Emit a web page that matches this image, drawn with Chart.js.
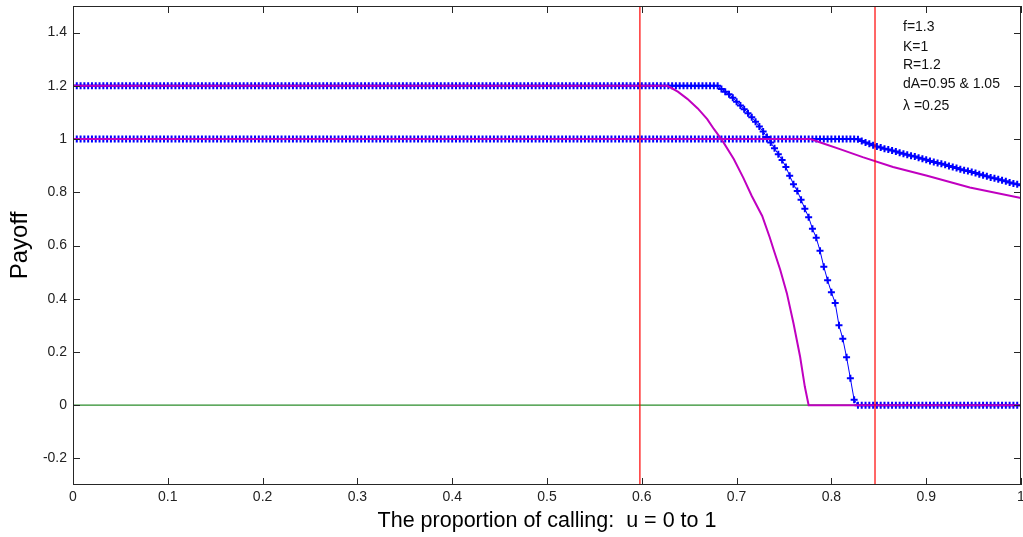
<!DOCTYPE html>
<html>
<head>
<meta charset="utf-8">
<script src="https://cdn.jsdelivr.net/npm/chart.js@4.4.1/dist/chart.umd.min.js"></script>
<style>
html, body { margin: 0; padding: 0; background: #fff; }
#wrap { width: 1023px; height: 537px; }
</style>
</head>
<body>
<div id="wrap"><canvas id="myChart" width="1023" height="537"></canvas></div>
<script>
// tick labels
const xTicks = [0, 0.1, 0.2, 0.3, 0.4, 0.5, 0.6, 0.7, 0.8, 0.9, 1]
const yTicks = [-0.2, 0, 0.2, 0.4, 0.6, 0.8, 1, 1.2, 1.4]

// sample grid of the two marked (blue) curves, u = 0 .. 1 in steps of 0.004
var u = []
for (var i = 0; i <= 250; i++) u.push(+(i * 0.004).toFixed(3))

// blue curve starting at 1.2 (one value per grid point)
const blueHigh = [
  1.2, 1.2, 1.2, 1.2, 1.2, 1.2, 1.2, 1.2, 1.2, 1.2, 1.2, 1.2, 1.2, 1.2, 1.2, 1.2, 1.2, 1.2, 1.2,
  1.2, 1.2, 1.2, 1.2, 1.2, 1.2, 1.2, 1.2, 1.2, 1.2, 1.2, 1.2, 1.2, 1.2, 1.2, 1.2, 1.2, 1.2, 1.2,
  1.2, 1.2, 1.2, 1.2, 1.2, 1.2, 1.2, 1.2, 1.2, 1.2, 1.2, 1.2, 1.2, 1.2, 1.2, 1.2, 1.2, 1.2, 1.2,
  1.2, 1.2, 1.2, 1.2, 1.2, 1.2, 1.2, 1.2, 1.2, 1.2, 1.2, 1.2, 1.2, 1.2, 1.2, 1.2, 1.2, 1.2, 1.2,
  1.2, 1.2, 1.2, 1.2, 1.2, 1.2, 1.2, 1.2, 1.2, 1.2, 1.2, 1.2, 1.2, 1.2, 1.2, 1.2, 1.2, 1.2, 1.2,
  1.2, 1.2, 1.2, 1.2, 1.2, 1.2, 1.2, 1.2, 1.2, 1.2, 1.2, 1.2, 1.2, 1.2, 1.2, 1.2, 1.2, 1.2, 1.2,
  1.2, 1.2, 1.2, 1.2, 1.2, 1.2, 1.2, 1.2, 1.2, 1.2, 1.2, 1.2, 1.2, 1.2, 1.2, 1.2, 1.2, 1.2, 1.2,
  1.2, 1.2, 1.2, 1.2, 1.2, 1.2, 1.2, 1.2, 1.2, 1.2, 1.2, 1.2, 1.2, 1.2, 1.2, 1.2, 1.2, 1.2, 1.2,
  1.2, 1.2, 1.2, 1.2, 1.2, 1.2, 1.2, 1.2, 1.2, 1.2, 1.2, 1.2, 1.2, 1.2, 1.2, 1.2, 1.2, 1.2, 1.2,
  1.188, 1.178, 1.168, 1.155, 1.140, 1.126, 1.112, 1.097, 1.082, 1.065, 1.047, 1.028,
  1.008, 0.987, 0.965, 0.943, 0.921, 0.895, 0.862, 0.830, 0.805, 0.772, 0.738, 0.706,
  0.663, 0.629, 0.580, 0.520, 0.469, 0.424, 0.384, 0.300, 0.250, 0.180, 0.101, 0.020,
  0, 0, 0, 0, 0, 0, 0, 0, 0, 0, 0, 0, 0, 0, 0, 0, 0, 0, 0, 0, 0, 0,
  0, 0, 0, 0, 0, 0, 0, 0, 0, 0, 0, 0, 0, 0, 0, 0, 0, 0, 0, 0, 0, 0
]

// blue curve starting at 1
const blueLow = [
  1, 1, 1, 1, 1, 1, 1, 1, 1, 1, 1, 1, 1, 1, 1, 1, 1, 1, 1, 1, 1, 1, 1,
  1, 1, 1, 1, 1, 1, 1, 1, 1, 1, 1, 1, 1, 1, 1, 1, 1, 1, 1, 1, 1, 1, 1,
  1, 1, 1, 1, 1, 1, 1, 1, 1, 1, 1, 1, 1, 1, 1, 1, 1, 1, 1, 1, 1, 1, 1,
  1, 1, 1, 1, 1, 1, 1, 1, 1, 1, 1, 1, 1, 1, 1, 1, 1, 1, 1, 1, 1, 1, 1,
  1, 1, 1, 1, 1, 1, 1, 1, 1, 1, 1, 1, 1, 1, 1, 1, 1, 1, 1, 1, 1, 1, 1,
  1, 1, 1, 1, 1, 1, 1, 1, 1, 1, 1, 1, 1, 1, 1, 1, 1, 1, 1, 1, 1, 1, 1,
  1, 1, 1, 1, 1, 1, 1, 1, 1, 1, 1, 1, 1, 1, 1, 1, 1, 1, 1, 1, 1, 1, 1,
  1, 1, 1, 1, 1, 1, 1, 1, 1, 1, 1, 1, 1, 1, 1, 1, 1, 1, 1, 1, 1, 1, 1,
  1, 1, 1, 1, 1, 1, 1, 1, 1, 1, 1, 1, 1, 1, 1, 1, 1, 1, 1, 1, 1, 1, 1,
  0.999, 0.993, 0.987, 0.982, 0.977, 0.972, 0.968, 0.964, 0.961, 0.957, 0.953,
  0.949, 0.945, 0.941, 0.937, 0.934, 0.930, 0.926, 0.922, 0.918, 0.914, 0.910,
  0.907, 0.903, 0.899, 0.895, 0.891, 0.887, 0.883, 0.880, 0.876, 0.872, 0.868,
  0.864, 0.860, 0.856, 0.853, 0.849, 0.845, 0.841, 0.837, 0.833, 0.830, 0.826
]

// magenta curves (plain lines), read as [u, payoff] pairs
const magHigh = [
  [0, 1.2], [0.627, 1.2], [0.638, 1.178], [0.648, 1.151], [0.659, 1.115], [0.669, 1.075],
  [0.676, 1.038], [0.685, 0.994], [0.697, 0.925], [0.707, 0.855], [0.716, 0.786],
  [0.727, 0.711], [0.735, 0.630], [0.739, 0.585], [0.746, 0.509], [0.753, 0.421],
  [0.760, 0.308], [0.767, 0.182], [0.772, 0.069], [0.776, 0], [1, 0]
]
const magLow = [
  [0, 1], [0.778, 1], [0.790, 0.985], [0.809, 0.962], [0.833, 0.932], [0.865, 0.895],
  [0.901, 0.862], [0.946, 0.818], [1, 0.778]
]

// zero line and the two red markers on u
const zeroLine = [[0, 0], [1, 0]]
const redU = [0.598, 0.846]

const notes = ['f=1.3', 'K=1', 'R=1.2', 'dA=0.95 & 1.05', '\u03bb =0.25']

const FONT = '"Liberation Sans", Arial, Helvetica, sans-serif'

function pairs(list) {
  return list.map(function (p) { return { x: p[0], y: p[1] } })
}
function onGrid(vals) {
  return vals.map(function (v, k) { return { x: u[k], y: v } })
}

// scales should not push the plot box in for overhanging tick labels
function noOverhang(s) {
  s.paddingTop = 0; s.paddingBottom = 0; s.paddingLeft = 0; s.paddingRight = 0
}

// frame with inward ticks on all four sides, plus the parameter text
const frameTicks = {
  id: 'frameTicks',
  afterDraw: function (chart) {
    var ctx = chart.ctx, a = chart.chartArea
    var xs = chart.scales.x, ys = chart.scales.y
    ctx.save()
    ctx.strokeStyle = '#262626'
    ctx.lineWidth = 1
    ctx.strokeRect(a.left + 0.5, a.top + 0.5, a.right - a.left - 1, a.bottom - a.top - 1)
    ctx.beginPath()
    xTicks.forEach(function (v) {
      var p = Math.round(xs.getPixelForValue(v)) + 0.5
      ctx.moveTo(p, a.bottom); ctx.lineTo(p, a.bottom - 7)
      ctx.moveTo(p, a.top); ctx.lineTo(p, a.top + 7)
    })
    yTicks.forEach(function (v) {
      var p = Math.round(ys.getPixelForValue(v)) + 0.5
      ctx.moveTo(a.left, p); ctx.lineTo(a.left + 7, p)
      ctx.moveTo(a.right, p); ctx.lineTo(a.right - 7, p)
    })
    ctx.stroke()

    ctx.fillStyle = '#111'
    ctx.font = '14px ' + FONT
    ctx.textBaseline = 'middle'
    var ny = [27, 47, 65, 84, 106]
    notes.forEach(function (t, k) { ctx.fillText(t, 903, ny[k]) })
    ctx.restore()
  }
}

var datasets = [
  { data: pairs(magHigh), borderColor: '#c000c0', borderWidth: 2, pointRadius: 0, order: 1 },
  { data: pairs(magLow), borderColor: '#c000c0', borderWidth: 2, pointRadius: 0, order: 1 },
  { data: onGrid(blueHigh), borderColor: '#0000ff', borderWidth: 1, pointStyle: 'cross',
    pointRadius: 3.5, pointBorderWidth: 2, pointBorderColor: '#0000ff', order: 2 },
  { data: onGrid(blueLow), borderColor: '#0000ff', borderWidth: 1, pointStyle: 'cross',
    pointRadius: 3.5, pointBorderWidth: 2, pointBorderColor: '#0000ff', order: 2 },
  { data: pairs(zeroLine), borderColor: '#2a8c2a', borderWidth: 1.2, pointRadius: 0, order: 3 }
]
redU.forEach(function (x) {
  datasets.push({ data: [{ x: x, y: -0.3 }, { x: x, y: 1.5 }], borderColor: '#ff0000',
    backgroundColor: '#ff0000', borderWidth: 1.2, pointRadius: 0, order: 0 })
})

var ctx = document.getElementById('myChart').getContext('2d')
var chart = new Chart(ctx, {
  type: 'scatter',
  data: { datasets: datasets },
  plugins: [frameTicks],
  options: {
    responsive: false,
    animation: false,
    devicePixelRatio: 1,
    datasets: { scatter: { showLine: true, tension: 0, fill: false } },
    layout: { autoPadding: false, padding: { left: 0, right: 2, top: 6, bottom: 0 } },
    plugins: { legend: { display: false }, tooltip: { enabled: false } },
    scales: {
      x: {
        type: 'linear', min: 0, max: 1,
        grid: { display: false, drawTicks: false },
        border: { display: false },
        afterBuildTicks: function (s) { s.ticks = xTicks.map(function (v) { return { value: v } }) },
        afterFit: function (s) { s.height = 52; noOverhang(s) },
        ticks: { padding: 4, color: '#222', font: { family: FONT, size: 14 },
          maxRotation: 0, autoSkip: false, callback: function (v) { return String(v) } },
        title: { display: true, text: 'The proportion of calling:  u = 0 to 1', color: '#000',
          font: { family: FONT, size: 21.5 }, padding: { top: 0, bottom: 3 } }
      },
      y: {
        type: 'linear', min: -0.3, max: 1.5,
        grid: { display: false, drawTicks: false },
        border: { display: false },
        afterBuildTicks: function (s) { s.ticks = yTicks.map(function (v) { return { value: v } }) },
        afterFit: function (s) { s.width = 73; noOverhang(s) },
        ticks: { padding: 6, color: '#222', font: { family: FONT, size: 14 },
          autoSkip: false, callback: function (v) { return String(v) } },
        title: { display: true, text: 'Payoff', color: '#000',
          font: { family: FONT, size: 24 }, padding: { top: 6, bottom: 0 } }
      }
    }
  }
})
</script>
</body>
</html>
